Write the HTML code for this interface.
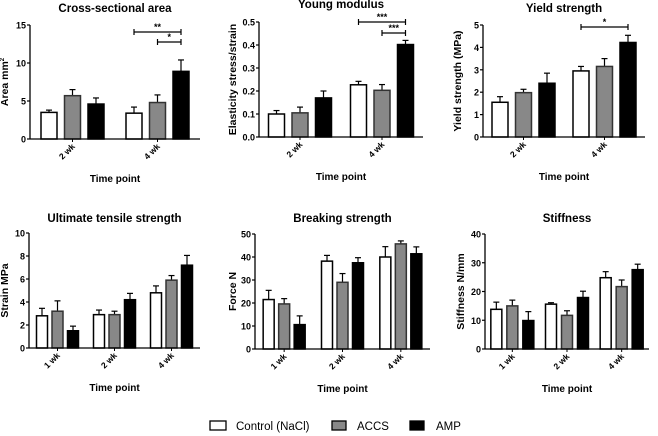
<!DOCTYPE html>
<html><head><meta charset="utf-8"><style>
html,body{margin:0;padding:0;background:#fff}
svg{display:block;font-family:"Liberation Sans",Arial,sans-serif}
</style></head><body>
<svg id="c" width="658" height="436" viewBox="0 0 658 436"></svg>
<script>
const seriesNames=["Control (NaCl)","ACCS","AMP"];
const fills=["#fff","#888","#000"];
const csaCats=["2 wk","4 wk"];
const csaMean=[[3.5,5.7,4.6],[3.4,4.8,8.9]];
const csaErr=[[0.3,0.8,0.8],[0.8,1.0,1.5]];
const ymCats=["2 wk","4 wk"];
const ymMean=[[0.10,0.105,0.17],[0.227,0.203,0.402]];
const ymErr=[[0.015,0.025,0.03],[0.015,0.025,0.018]];
const ysCats=["2 wk","4 wk"];
const ysMean=[[1.55,1.98,2.4],[2.95,3.15,4.22]];
const ysErr=[[0.25,0.15,0.45],[0.2,0.35,0.32]];
const utsCats=["1 wk","2 wk","4 wk"];
const utsMean=[[2.8,3.2,1.5],[2.9,2.9,4.2],[4.8,5.9,7.2]];
const utsErr=[[0.65,0.9,0.4],[0.4,0.3,0.55],[0.6,0.4,0.85]];
const bsCats=["1 wk","2 wk","4 wk"];
const bsMean=[[21.5,19.6,10.6],[38.2,29,37.5],[40,45.7,41.4]];
const bsErr=[[4,2.3,3.8],[2.5,3.8,2.2],[4.5,1.3,3]];
const stCats=["1 wk","2 wk","4 wk"];
const stMean=[[13.8,15,9.9],[15.6,11.7,17.9],[24.8,21.7,27.6]];
const stErr=[[2.5,2,3.1],[0.5,1.6,2.2],[2.1,2.3,1.9]];
const csaTicks=[0,5,10,15], ymTicks=["0.0","0.1","0.2","0.3","0.4","0.5"], ysTicks=[0,1,2,3,4,5];
const utsTicks=[0,2,4,6,8,10], bsTicks=[0,10,20,30,40,50], stTicks=[0,10,20,30,40];

const NS="http://www.w3.org/2000/svg", svg=document.getElementById('c');
function el(t,a,p){const e=document.createElementNS(NS,t);for(const k in a)e.setAttribute(k,a[k]);(p||svg).appendChild(e);return e;}
function panel(o){
  const g=el('g',{});
  
  
  const ymax=parseFloat(o.ticks[o.ticks.length-1]);
  const Y=v=>o.y0-(v/ymax)*(o.y0-o.y1);
  const band=(o.x1-o.x0)/o.cats.length;
  const X=(gi,si)=>o.x0+band*(gi+0.5)+(si-1)*o.sp;
  const t=el('text',{x:(o.x0+o.x1)/2,y:o.ty,'text-anchor':'middle','font-size':11.5,'font-weight':'bold'},g);t.textContent=o.title;
  
  o.mean.forEach((grp,gi)=>grp.forEach((v,si)=>{
    const cx=X(gi,si),top=Y(v),et=Y(v+o.err[gi][si]);
    el('line',{x1:cx,x2:cx,y1:top,y2:et,stroke:'#000','stroke-width':1.2},g);
    el('line',{x1:cx-3,x2:cx+3,y1:et,y2:et,stroke:'#000','stroke-width':1.2},g);
    const r=el('rect',{x:cx-o.bw/2,y:top,width:o.bw,height:o.y0-top,fill:fills[si],stroke:si==1?'#333':'#000','stroke-width':1.5},g);
    
    
  }));
  el('line',{x1:o.x0,x2:o.x0,y1:o.y1,y2:o.y0,stroke:'#000','stroke-width':1.3},g);
  el('line',{x1:o.x0,x2:o.x1,y1:o.y0,y2:o.y0,stroke:'#000','stroke-width':1.3},g);
  o.ticks.forEach(tv=>{const y=Y(parseFloat(tv));
    el('line',{x1:o.x0-3,x2:o.x0,y1:y,y2:y,stroke:'#000','stroke-width':1.2},g);
    const tt=el('text',{x:o.x0-4,y:y+3.5,'text-anchor':'end','font-size':9,'font-weight':'bold'},g);tt.textContent=tv;});
  o.cats.forEach((c,gi)=>{const cx=o.x0+band*(gi+0.5);
    el('line',{x1:cx,x2:cx,y1:o.y0,y2:o.y0+3,stroke:'#000'},g);
    const tt=el('text',{x:cx+3,y:o.y0+8,'text-anchor':'end','font-size':8.5,'font-weight':'bold',transform:`rotate(-45 ${cx+3} ${o.y0+8})`},g);tt.textContent=c;});
  const xl=el('text',{x:(o.x0+o.x1)/2,y:o.y0+43,'text-anchor':'middle','font-size':10,'font-weight':'bold'},g);xl.textContent='Time point';
  
  const yc=(o.y0+o.y1)/2, yx=o.ylx;
  const yl=el('text',{x:yx,y:yc,'text-anchor':'middle','font-size':10.5,'font-weight':'bold',transform:`rotate(-90 ${yx} ${yc})`},g);yl.innerHTML=o.ylabel;
  
  (o.sig||[]).forEach(s=>{const xa=X(s[0],s[1]),xb=X(s[0],s[2]),y=s[4];
    el('line',{x1:xa,x2:xb,y1:y,y2:y,stroke:'#000','stroke-width':1.2},g);
    el('line',{x1:xa,x2:xa,y1:y-3,y2:y+3,stroke:'#000','stroke-width':1.2},g);
    el('line',{x1:xb,x2:xb,y1:y-3,y2:y+3,stroke:'#000','stroke-width':1.2},g);
    const st=el('text',{x:(xa+xb)/2,y:y-2,'text-anchor':'middle','font-size':9,'font-weight':'bold'},g);st.textContent=s[3];});
}
panel({name:'cross-sectional-area-chart',title:'Cross-sectional area',cats:csaCats,mean:csaMean,err:csaErr,ticks:csaTicks,x0:30,x1:200,y0:139,y1:25,bw:16,sp:23.5,ty:12,ylx:8,ylabel:'Area  mm<tspan font-size="6" dy="-4">2</tspan>',sig:[[1,0,2,'**',32],[1,1,2,'*',42]]});
panel({name:'young-modulus-chart',title:'Young modulus',cats:ymCats,mean:ymMean,err:ymErr,ticks:ymTicks,x0:259,x1:423,y0:137,y1:22,bw:16,sp:23.5,ty:8,ylx:236,ylabel:'Elasticity stress/strain',sig:[[1,0,2,'***',22],[1,1,2,'***',33]]});
panel({name:'yield-strength-chart',title:'Yield strength',cats:ysCats,mean:ysMean,err:ysErr,ticks:ysTicks,x0:483,x1:645,y0:137,y1:25,bw:16,sp:23.5,ty:12,ylx:461,ylabel:'Yield strength (MPa)',sig:[[1,0,2,'*',27]]});
panel({name:'ultimate-tensile-strength-chart',title:'Ultimate tensile strength',cats:utsCats,mean:utsMean,err:utsErr,ticks:utsTicks,x0:29,x1:200,y0:348,y1:233,bw:11,sp:15.5,ty:222,ylx:8,ylabel:'Strain  MPa'});
panel({name:'breaking-strength-chart',title:'Breaking strength',cats:bsCats,mean:bsMean,err:bsErr,ticks:bsTicks,x0:255,x1:430,y0:349,y1:234,bw:11,sp:15.5,ty:222,ylx:236,ylabel:'Force  N'});
panel({name:'stiffness-chart',title:'Stiffness',cats:stCats,mean:stMean,err:stErr,ticks:stTicks,x0:485,x1:649,y0:349,y1:234,bw:11,sp:16,ty:222,ylx:464,ylabel:'Stiffness  N/mm'});
const lg=el('g',{});


[[210,236],[332,357],[410,436]].forEach((p,i)=>{
  el('rect',{x:p[0],y:421,width:p[0]==210?16:14,height:9,fill:fills[i],stroke:'#000','stroke-width':1.3},lg);
  const t=el('text',{x:p[1],y:430,'font-size':11.5},lg);t.textContent=seriesNames[i];
  
});
</script>
</body></html>
